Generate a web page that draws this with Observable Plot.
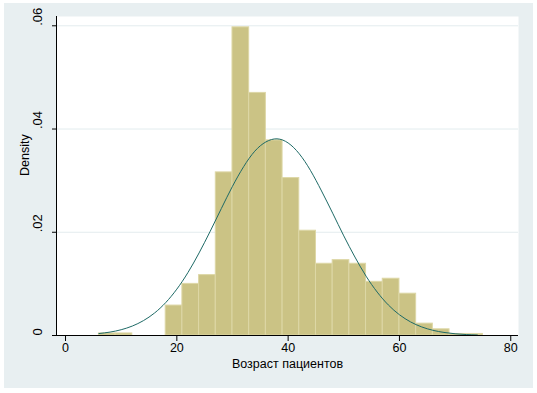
<!DOCTYPE html>
<html>
<head>
<meta charset="utf-8">
<script src="https://cdn.jsdelivr.net/npm/d3@7"></script>
<script src="https://cdn.jsdelivr.net/npm/@observablehq/plot@0.6"></script>
<style>
  html, body { margin: 0; padding: 0; background: white; }
  #wrap { position: relative; width: 537px; height: 393px; }
  #bg { position: absolute; left: 4px; top: 3px; width: 529px; height: 385px; background: #e8eff1; }
  #chart { position: absolute; left: 0; top: 0; }
</style>
</head>
<body>
<div id="wrap"><div id="bg"></div><div id="chart"></div></div>
<script>
// Histogram bins (age, width 3) and densities
const binLo = [6, 9, 18, 21, 24, 27, 30, 33, 36, 39, 42, 45, 48, 51, 54, 57, 60, 63, 66, 69, 72];
const binHi = [9, 12, 21, 24, 27, 30, 33, 36, 39, 42, 45, 48, 51, 54, 57, 60, 63, 66, 69, 72, 75];
const density = [0.0004, 0.0004, 0.0058, 0.0100, 0.0117, 0.0316, 0.0597, 0.0470, 0.0378, 0.0305, 0.0203,
                 0.0139, 0.0146, 0.0139, 0.0104, 0.0110, 0.0081, 0.0023, 0.0012, 0.0003, 0.0003];

// Normal density curve
const curveX = [6, 8, 10, 12, 14, 16, 18, 20, 22, 24, 26, 28, 30, 32, 34, 36, 38, 40, 42, 44, 46, 48,
                50, 52, 54, 56, 58, 60, 62, 64, 66, 68, 70, 72, 74];
const curveY = [0.00038, 0.00066, 0.00112, 0.00183, 0.00288, 0.00436, 0.00637, 0.00898, 0.0122, 0.0160,
                0.0202, 0.0246, 0.0289, 0.0327, 0.0357, 0.0375, 0.0381, 0.0373, 0.0352, 0.0320, 0.0280,
                0.0237, 0.0193, 0.0152, 0.0115, 0.00841, 0.00592, 0.00402, 0.00263, 0.00166, 0.00101,
                0.000594, 0.000336, 0.000184, 0.0000967];

const xTicks = [0, 20, 40, 60, 80];
const yTicks = [0, 0.02, 0.04, 0.06];
const yTickLabels = ["0", ".02", ".04", ".06"];
const xTitle = "Возраст пациентов";
const yTitle = "Density";

const bars = binLo.map((lo, i) => ({lo, hi: binHi[i], d: density[i]}));
const curve = curveX.map((x, i) => ({x, y: curveY[i]}));
const yLab = yTicks.map((v, i) => ({v, t: yTickLabels[i]}));

const xMin = -1.62, xMax = 81.39, yMax = 0.0618;

const chart = Plot.plot({
  width: 537,
  height: 393,
  marginLeft: 56,
  marginRight: 19,
  marginTop: 16,
  marginBottom: 58,
  style: {background: "transparent", fontFamily: "'Liberation Sans', Arial, sans-serif", fontSize: "12.5px", color: "#000"},
  x: {domain: [xMin, xMax], ticks: xTicks, tickFormat: d => String(d), tickSize: 6, tickPadding: 2, label: null},
  y: {domain: [0, yMax], ticks: yTicks, tickFormat: () => "", tickSize: 4, tickPadding: 0, label: null},
  marks: [
    Plot.frame({fill: "white", stroke: null}),
    Plot.ruleY(yTicks.slice(1), {stroke: "#e3ecee", strokeWidth: 1}),
    Plot.rectY(bars, {x1: "lo", x2: "hi", y: "d", fill: "#cbc385", stroke: "#ddd7a6", strokeWidth: 1, inset: 0}),
    Plot.line(curve, {x: "x", y: "y", stroke: "#1e6a66", strokeWidth: 1, curve: "natural"}),
    Plot.ruleX([xMin], {stroke: "black"}),
    Plot.ruleY([0], {stroke: "black"}),
    Plot.text(yLab, {y: "v", text: "t", frameAnchor: "left", dx: -19, rotate: -90, fontSize: 13}),
    Plot.text([yTitle], {frameAnchor: "left", dx: -32, rotate: -90, fontSize: 12.5}),
    Plot.text([xTitle], {frameAnchor: "bottom", dy: 32, fontSize: 12.5})
  ]
});
document.getElementById("chart").append(chart);
</script>
</body>
</html>
